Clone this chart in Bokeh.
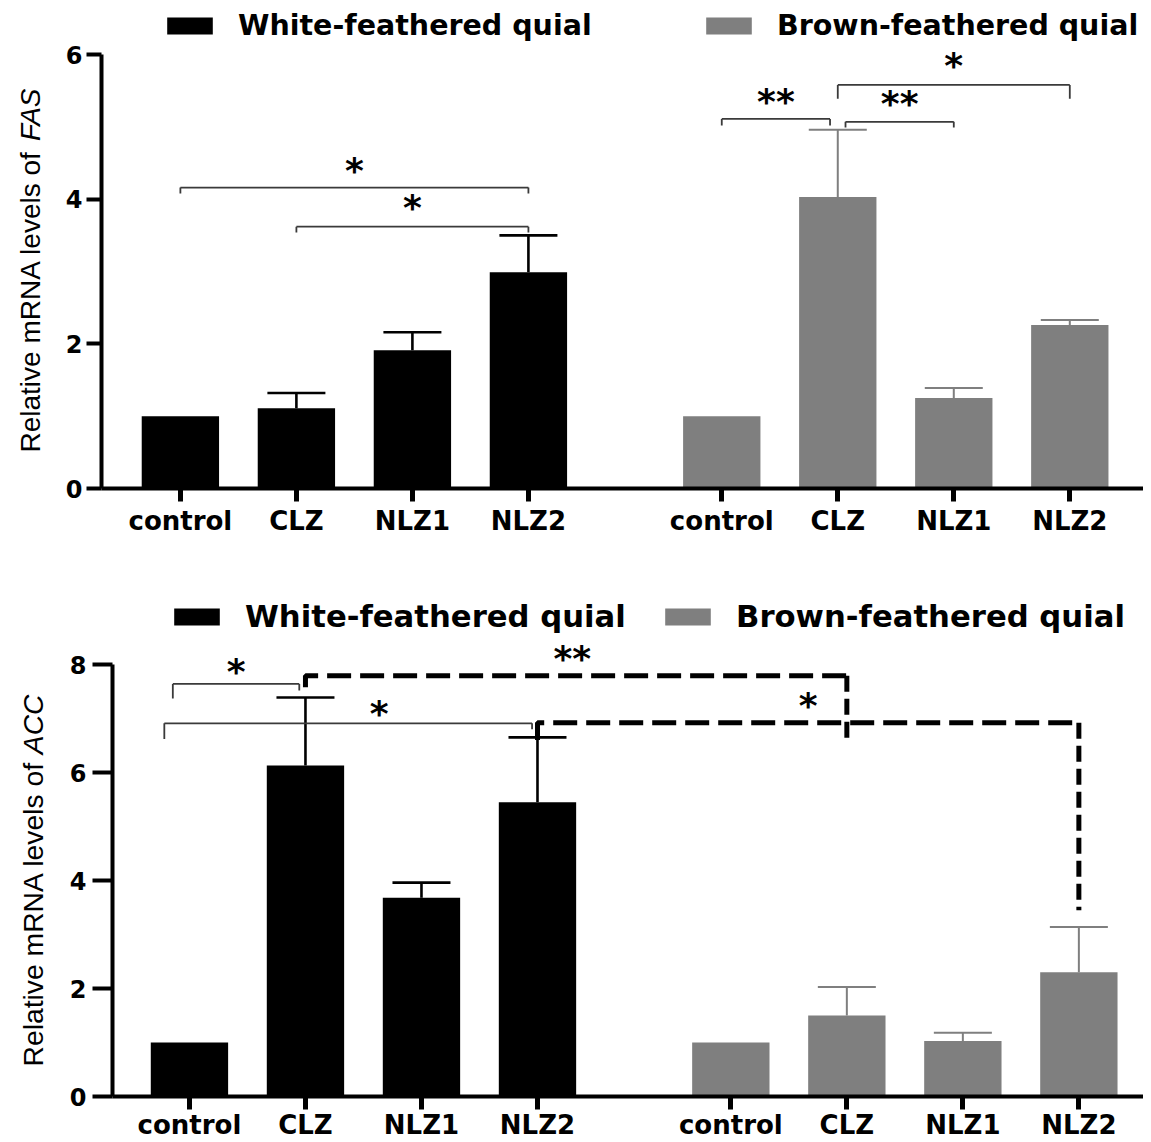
import math
from bokeh.plotting import figure
from bokeh.models import ColumnDataSource, FixedTicker, Legend, LegendItem
from bokeh.layouts import column, row
from bokeh.embed import file_html
from bokeh.resources import INLINE
from bokeh.core.properties import value

# ---------------- data ----------------
categories = ["control", "CLZ", "NLZ1", "NLZ2"]
groups = ["White-feathered quial", "Brown-feathered quial"]

fas_white = [1.00, 1.11, 1.91, 2.99]
fas_white_upper = [1.00, 1.32, 2.16, 3.50]
fas_brown = [1.00, 4.03, 1.25, 2.26]
fas_brown_upper = [1.00, 4.96, 1.39, 2.33]

acc_white = [1.00, 6.13, 3.68, 5.45]
acc_white_upper = [1.00, 7.39, 3.96, 6.65]
acc_brown = [1.00, 1.50, 1.03, 2.30]
acc_brown_upper = [1.00, 2.03, 1.18, 3.14]

fas_yticks = [0, 2, 4, 6]
acc_yticks = [0, 2, 4, 6, 8]

# significance brackets: (group_a, cat_a, off_a, group_b, cat_b, off_b, y, drop_a, drop_b, label, label_shift, label_y)
fas_brackets = [
    (0, 0, 0.0, 0, 3, 0.0, 4.16, 0.08, 0.08, "*", 0.0, 4.44),
    (0, 1, 0.0, 0, 3, 0.0, 3.62, 0.08, 0.08, "*", 0.0, 3.92),
    (1, 0, 0.0, 1, 1, -0.2, 5.11, 0.09, 0.09, "**", 0.0, 5.39),
    (1, 1, 0.2, 1, 2, 0.0, 5.07, 0.08, 0.08, "**", 0.0, 5.36),
    (1, 1, 0.0, 1, 3, 0.0, 5.58, 0.19, 0.19, "*", 0.0, 5.89),
]
acc_brackets = [
    (0, 0, -0.43, 0, 1, -0.16, 7.64, 0.27, 0.12, "*", 0.0, 7.92),
    (0, 0, -0.65, 0, 3, -0.14, 6.91, 0.29, 0.11, "*", 0.8, 7.15),
]
# dashed comparisons between groups: (group_a, cat_a, y_start, group_b, cat_b, y_end, y_level, label, label_x_shift, label_y)
acc_dashed = [
    (0, 1, 7.58, 1, 1, 6.60, 7.79, "**", -0.1, 8.17),
    (0, 3, 6.60, 1, 3, 3.45, 6.92, "*", 0.0, 7.29),
]

WHITE = "#000000"
GRAY = "#7f7f7f"
SLOT = 3
GROUP_OFFSET = 14
LABEL_W = 56
TOTAL_W = 1143
YLABEL_FONT = "Liberation Sans"


def xpos(group, i):
    return SLOT * (i + 1) + (GROUP_OFFSET if group == 1 else 0)


def ylabel_panel(height, bottom, main, gene, x_mid, y_start, y_end, size):
    fh = height - bottom
    f = figure(width=LABEL_W, height=height, x_range=(0, LABEL_W), y_range=(0, fh),
               output_backend="svg", toolbar_location=None,
               x_axis_location=None, y_axis_location=None,
               min_border_left=0, min_border_right=0, min_border_top=0,
               min_border_bottom=bottom, outline_line_color=None)
    f.xgrid.visible = False
    f.ygrid.visible = False
    f.text(x=[x_mid], y=[fh - y_start], text=[main], angle=math.pi / 2,
           text_align="left", text_baseline="middle",
           text_font=value(YLABEL_FONT), text_font_size=size, text_color="black")
    f.text(x=[x_mid], y=[fh - y_end], text=[gene], angle=math.pi / 2,
           text_align="right", text_baseline="middle",
           text_font=value(YLABEL_FONT), text_font_style="italic",
           text_font_size=size, text_color="black")
    return f


def make_panel(white, white_up, brown, brown_up, yticks, ymax_view, xr, left, height,
               bottom, y_tick_out, x_standoff, y_standoff, legend_pos, legend_size,
               brackets, dashed):
    p = figure(width=TOTAL_W - LABEL_W, height=height, x_range=xr, y_range=(0, ymax_view),
               output_backend="svg", toolbar_location=None,
               min_border_left=left - LABEL_W, min_border_right=0, min_border_top=0,
               min_border_bottom=bottom, outline_line_color=None)
    p.xgrid.visible = False
    p.ygrid.visible = False

    renderers = []
    for g, (vals, ups, col, lw) in enumerate([(white, white_up, WHITE, 2.6), (brown, brown_up, GRAY, 2.0)]):
        xs = [xpos(g, i) for i in range(len(categories))]
        src = ColumnDataSource(dict(x=xs, top=vals, cat=categories))
        r = p.vbar(x="x", top="top", width=2.0, source=src, fill_color=col, line_color=None)
        renderers.append(r)
        ex = [x for x, v, u in zip(xs, vals, ups) if u > v]
        ev = [v for v, u in zip(vals, ups) if u > v]
        eu = [u for v, u in zip(vals, ups) if u > v]
        esrc = ColumnDataSource(dict(x=ex, v=ev, u=eu, xl=[x - 0.75 for x in ex], xr=[x + 0.75 for x in ex]))
        p.segment(x0="x", y0="v", x1="x", y1="u", source=esrc, line_color=col, line_width=lw)
        p.segment(x0="xl", y0="u", x1="xr", y1="u", source=esrc, line_color=col, line_width=lw)

    # brackets
    bx0, by0, bx1, by1 = [], [], [], []
    sx, sy, st = [], [], []
    for ga, ca, oa, gb, cb, ob, y, da, db, lab, lshift, ly in brackets:
        xa = xpos(ga, ca) + oa
        xb = xpos(gb, cb) + ob
        bx0 += [xa, xa, xb]
        by0 += [y - da, y, y]
        bx1 += [xa, xb, xb]
        by1 += [y, y, y - db]
        sx.append((xa + xb) / 2 + lshift)
        sy.append(ly)
        st.append(lab)
    p.segment(x0=bx0, y0=by0, x1=bx1, y1=by1, line_color="#3a3a3a", line_width=1.8)

    for ga, ca, ys, gb, cb, ye, yl, lab, lshift, ly in dashed:
        xa = xpos(ga, ca)
        xb = xpos(gb, cb)
        p.line([xa, xa, xb], [ys, yl, yl], line_color="black", line_width=5, line_dash="24 9")
        p.line([xb, xb], [yl, ye], line_color="black", line_width=5, line_dash="16 7")
        sx.append((xa + xb) / 2 + lshift)
        sy.append(ly)
        st.append(lab)

    ssrc = ColumnDataSource(dict(x=sx, y=sy, t=st))
    p.text(x="x", y="y", text="t", source=ssrc, text_font=value("DejaVu Sans"),
           text_font_style="bold", text_font_size="36px", text_align="center",
           text_baseline="alphabetic", y_offset=3, text_color="black")

    # axes
    ticks = [xpos(g, i) for g in range(2) for i in range(len(categories))]
    xa = p.xaxis[0]
    xa.ticker = FixedTicker(ticks=ticks)
    xa.major_label_overrides = {xpos(g, i): categories[i] for g in range(2) for i in range(len(categories))}
    xa.axis_line_width = 4
    xa.major_tick_line_width = 5
    xa.major_tick_out = 13
    xa.major_tick_in = 0
    xa.minor_tick_out = 0
    xa.minor_tick_in = 0
    xa.major_label_standoff = x_standoff
    xa.major_label_text_font = "DejaVu Sans"
    xa.major_label_text_font_style = "bold"
    xa.major_label_text_font_size = "26px"
    xa.major_label_text_color = "black"

    ya = p.yaxis[0]
    ya.ticker = FixedTicker(ticks=yticks)
    ya.bounds = (0, yticks[-1])
    ya.axis_line_width = 4
    ya.major_tick_line_width = 4
    ya.major_tick_out = y_tick_out
    ya.major_tick_in = 0
    ya.minor_tick_out = 0
    ya.minor_tick_in = 0
    ya.major_label_standoff = y_standoff
    ya.major_label_text_font = "DejaVu Sans"
    ya.major_label_text_font_style = "bold"
    ya.major_label_text_font_size = "24px"
    ya.major_label_text_color = "black"

    # legends
    for g in range(2):
        leg = Legend(items=[LegendItem(label=groups[g], renderers=[renderers[g]])],
                     location=legend_pos[g], orientation="horizontal", padding=0, margin=0,
                     border_line_color=None, background_fill_alpha=0,
                     glyph_width=57, glyph_height=21, label_standoff=20,
                     label_text_font="DejaVu Sans", label_text_font_style="bold",
                     label_text_font_size=legend_size, label_text_color="black")
        p.add_layout(leg)
    return p


H1, B1 = 560, 72
H2, B2 = 582, 46

p1 = make_panel(fas_white, fas_white_upper, fas_brown, fas_brown_upper, fas_yticks,
                6.747, (0.96, 0.96 + 1042 / 38.67), 101, H1, B1, 15, 4, 4,
                [(60, 446), (599, 446)], "28.5px", fas_brackets, [])
l1 = ylabel_panel(H1, B1, "Relative mRNA levels of ", "FAS", 30, 452, 88, "28px")

p2 = make_panel(acc_white, acc_white_upper, acc_brown, acc_brown_upper, acc_yticks,
                9.926, (1.01, 1.01 + 1031 / 38.67), 112, H2, B2, 20, 0, 6,
                [(56, 462), (547, 462)], "30.7px", acc_brackets, acc_dashed)
l2 = ylabel_panel(H2, B2, "Relative mRNA levels of ", "ACC", 32, 506, 134, "28.3px")

layout = column(row(l1, p1, spacing=0), row(l2, p2, spacing=0), spacing=0)
open("out.html", "w").write(file_html(layout, INLINE))
